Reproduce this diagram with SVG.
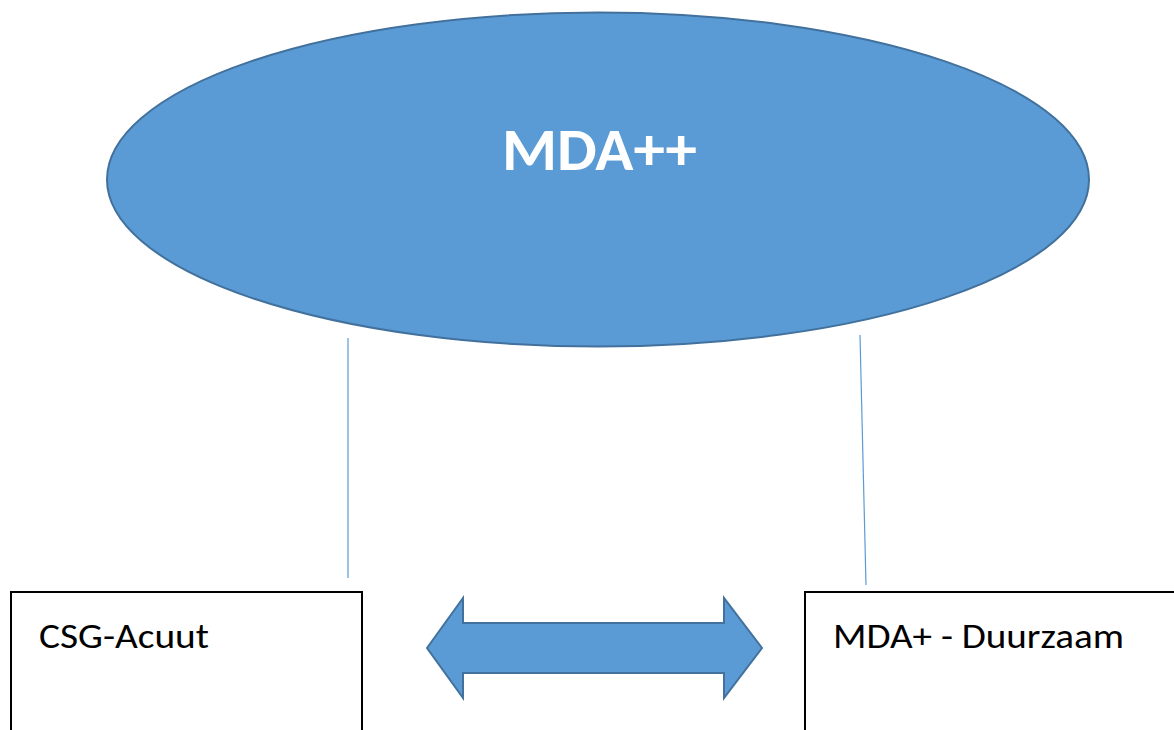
<svg xmlns="http://www.w3.org/2000/svg" width="1174" height="730" viewBox="0 0 1174 730">
<style>
.shape{fill:#5B9BD5;stroke:#41719C;stroke-width:2}
.box{fill:#ffffff;stroke:#000000;stroke-width:2}
.conn{stroke:#5B9BD5;stroke-width:1.2;fill:none}
.lbl{font-family:Carlito,"Open Sans","Liberation Sans",sans-serif;font-size:35px;font-weight:normal;fill:#000}
.title{font-family:Carlito,"Open Sans","Liberation Sans",sans-serif;font-size:60px;font-weight:bold;fill:#fff}
</style>
<rect width="1174" height="730" fill="#fff"/>
<g id="mda-plusplus">
<ellipse class="shape" cx="598" cy="179.5" rx="491" ry="167"/>
<text class="title" x="599.5" y="170" text-anchor="middle" textLength="195" lengthAdjust="spacingAndGlyphs">MDA++</text>
</g>
<g id="connectors">
<line class="conn" x1="348" y1="338" x2="348" y2="578"/>
<line class="conn" x1="860" y1="335" x2="866" y2="585"/>
</g>
<g id="double-arrow">
<polygon class="shape" points="427,648 463,598 463,623 724,623 724,598 762,648 724,698 724,673 463,673 463,698"/>
</g>
<g id="csg-acuut">
<rect class="box" x="11" y="592" width="351" height="150"/>
<text class="lbl" x="39" y="648" textLength="170" lengthAdjust="spacingAndGlyphs">CSG-Acuut</text>
</g>
<g id="mda-duurzaam">
<rect class="box" x="805" y="592" width="380" height="150"/>
<text class="lbl" x="833" y="648" textLength="291" lengthAdjust="spacingAndGlyphs">MDA+ - Duurzaam</text>
</g>
</svg>
